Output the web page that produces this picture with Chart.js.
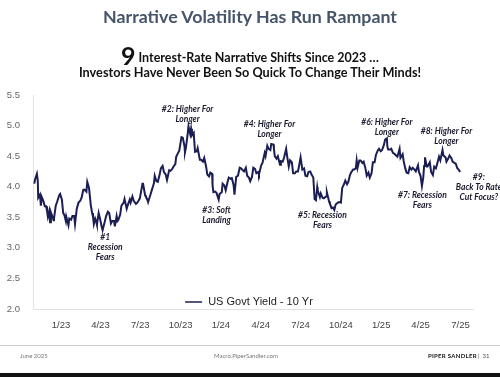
<!DOCTYPE html>
<html>
<head>
<meta charset="utf-8">
<script src="https://cdn.jsdelivr.net/npm/chart.js@4"></script>
<style>
  html, body { margin: 0; padding: 0; background: #fff; }
  #page { position: relative; width: 500px; height: 377px; overflow: hidden; font-family: Lato, "Liberation Sans", sans-serif; }
  #chart { position: absolute; left: 0; top: 0; }
  .txt { position: absolute; left: 0; width: 500px; text-align: center; white-space: nowrap; }
  #title { top: 5px; font-size: 17.8px; font-weight: bold; color: #46546a; }
  #sub1 { top: 40px; font-size: 12.5px; font-weight: bold; color: #111; }
  #sub1 .big { font-size: 25px; vertical-align: -3px; margin-right: 3px; }
  #sub2 { top: 64px; font-size: 12.7px; font-weight: bold; color: #111; }
  #rule { position: absolute; left: 0; top: 345px; width: 500px; height: 1px; background: #cfcfcf; }
  .foot { position: absolute; top: 352px; font-size: 6px; color: #777; white-space: nowrap; }
  #bar { position: absolute; left: 0; top: 373px; width: 500px; height: 4px; background: #111; }
</style>
</head>
<body>
<div id="page">
  <canvas id="chart" width="500" height="377"></canvas>
  <div class="txt" id="title">Narrative Volatility Has Run Rampant</div>
  <div class="txt" id="sub1"><span class="big">9</span>Interest-Rate Narrative Shifts Since 2023 …</div>
  <div class="txt" id="sub2">Investors Have Never Been So Quick To Change Their Minds!</div>
  <div id="rule"></div>
  <div class="foot" style="left:20px">June 2025</div>
  <div class="foot" style="left:214px">Macro.PiperSandler.com</div>
  <div class="foot" style="left:428px;color:#111;font-weight:bold;letter-spacing:0.3px">PIPER SANDLER</div>
  <div class="foot" style="left:478px;color:#555">|&nbsp; 31</div>
  <div id="bar"></div>
</div>
<script>
const seriesLabel = 'US Govt Yield - 10 Yr'

const dates = [
  '2022-11-01','2022-11-03','2022-11-07','2022-11-09','2022-11-10','2022-11-14','2022-11-16','2022-11-18','2022-11-22','2022-11-25',
  '2022-11-28','2022-11-30','2022-12-02','2022-12-05','2022-12-07','2022-12-09','2022-12-13','2022-12-15','2022-12-16','2022-12-20',
  '2022-12-23','2022-12-28','2022-12-30',
  '2023-01-03','2023-01-06','2023-01-09','2023-01-12','2023-01-13','2023-01-18','2023-01-20','2023-01-24','2023-01-27','2023-01-31',
  '2023-02-02','2023-02-06','2023-02-10','2023-02-14','2023-02-17','2023-02-21','2023-02-24','2023-02-28','2023-03-02','2023-03-06',
  '2023-03-08','2023-03-10','2023-03-13','2023-03-15','2023-03-17','2023-03-20','2023-03-22','2023-03-24','2023-03-28','2023-03-31',
  '2023-04-04','2023-04-06','2023-04-11','2023-04-14','2023-04-18','2023-04-21','2023-04-25','2023-04-28','2023-05-02','2023-05-04',
  '2023-05-08','2023-05-10','2023-05-12','2023-05-16','2023-05-19','2023-05-24','2023-05-26','2023-05-31','2023-06-02','2023-06-07',
  '2023-06-09','2023-06-13','2023-06-16','2023-06-21','2023-06-23','2023-06-27','2023-06-30','2023-07-06','2023-07-07','2023-07-12',
  '2023-07-14','2023-07-18','2023-07-19','2023-07-25','2023-07-28','2023-08-01','2023-08-03','2023-08-07','2023-08-10','2023-08-14',
  '2023-08-17','2023-08-21','2023-08-24','2023-08-28','2023-08-31','2023-09-05','2023-09-08','2023-09-12','2023-09-15','2023-09-19',
  '2023-09-21','2023-09-25','2023-09-28','2023-10-03','2023-10-06','2023-10-10','2023-10-11','2023-10-13','2023-10-17','2023-10-19',
  '2023-10-23','2023-10-25','2023-10-27','2023-10-31','2023-11-01','2023-11-03','2023-11-07','2023-11-09','2023-11-14','2023-11-17',
  '2023-11-21','2023-11-24','2023-11-28','2023-12-01','2023-12-05','2023-12-08','2023-12-12','2023-12-13','2023-12-15','2023-12-19',
  '2023-12-22','2023-12-27','2023-12-29',
  '2024-01-03','2024-01-05','2024-01-09','2024-01-12','2024-01-16','2024-01-19','2024-01-23','2024-01-26','2024-01-30','2024-02-01',
  '2024-02-05','2024-02-09','2024-02-13','2024-02-16','2024-02-20','2024-02-23','2024-02-27','2024-03-01','2024-03-05','2024-03-08',
  '2024-03-12','2024-03-15','2024-03-19','2024-03-22','2024-03-26','2024-03-28','2024-04-02','2024-04-05','2024-04-10','2024-04-12',
  '2024-04-16','2024-04-19','2024-04-23','2024-04-25','2024-04-30','2024-05-01','2024-05-03','2024-05-07','2024-05-10','2024-05-15',
  '2024-05-17','2024-05-21','2024-05-24','2024-05-29','2024-05-31','2024-06-04','2024-06-07','2024-06-11','2024-06-14','2024-06-18',
  '2024-06-21','2024-06-25','2024-06-28','2024-07-01','2024-07-05','2024-07-09','2024-07-12','2024-07-16','2024-07-19','2024-07-23',
  '2024-07-26','2024-07-30','2024-08-02','2024-08-05','2024-08-08','2024-08-09','2024-08-14','2024-08-16','2024-08-20','2024-08-23',
  '2024-08-28','2024-08-30','2024-09-04','2024-09-06','2024-09-10','2024-09-13','2024-09-16','2024-09-19','2024-09-24','2024-09-27',
  '2024-10-01','2024-10-04','2024-10-08','2024-10-11','2024-10-15','2024-10-18','2024-10-22','2024-10-25','2024-10-29','2024-10-31',
  '2024-11-04','2024-11-06','2024-11-08','2024-11-12','2024-11-15','2024-11-19','2024-11-22','2024-11-26','2024-11-29','2024-12-03',
  '2024-12-06','2024-12-10','2024-12-13','2024-12-17','2024-12-20','2024-12-24','2024-12-27','2024-12-31',
  '2025-01-03','2025-01-07','2025-01-10','2025-01-14','2025-01-15','2025-01-17','2025-01-22','2025-01-24','2025-01-28','2025-01-31',
  '2025-02-04','2025-02-07','2025-02-12','2025-02-14','2025-02-19','2025-02-21','2025-02-25','2025-02-28','2025-03-04','2025-03-07',
  '2025-03-11','2025-03-14','2025-03-18','2025-03-21','2025-03-26','2025-03-28','2025-04-01','2025-04-04','2025-04-07','2025-04-09',
  '2025-04-11','2025-04-15','2025-04-17','2025-04-22','2025-04-25','2025-04-29','2025-05-02','2025-05-06','2025-05-09','2025-05-13',
  '2025-05-16','2025-05-21','2025-05-23','2025-05-28','2025-05-30','2025-06-03','2025-06-06','2025-06-10','2025-06-13','2025-06-17',
  '2025-06-20','2025-06-24','2025-06-27','2025-06-30'
]

const yields = [
  4.05,4.12,4.21,4.10,3.82,3.87,3.69,3.83,3.76,3.68,
  3.68,3.61,3.51,3.60,3.42,3.58,3.50,3.45,3.48,3.69,
  3.75,3.86,3.88,
  3.79,3.57,3.53,3.44,3.51,3.37,3.48,3.46,3.52,3.52,
  3.39,3.64,3.74,3.77,3.82,3.95,3.95,3.92,4.08,3.98,
  3.98,3.70,3.57,3.51,3.39,3.48,3.44,3.38,3.57,3.48,
  3.34,3.29,3.43,3.52,3.59,3.57,3.40,3.44,3.44,3.35,
  3.52,3.44,3.46,3.54,3.69,3.74,3.80,3.64,3.69,3.79,
  3.74,3.84,3.77,3.72,3.73,3.77,3.81,4.05,4.06,3.86,
  3.83,3.78,3.75,3.89,3.96,4.05,4.18,4.09,4.08,4.19,
  4.30,4.34,4.24,4.20,4.11,4.27,4.26,4.29,4.33,4.37,
  4.49,4.55,4.59,4.81,4.80,4.66,4.56,4.63,4.85,4.99,
  4.86,4.95,4.84,4.88,4.77,4.57,4.58,4.63,4.44,4.44,
  4.41,4.47,4.34,4.20,4.17,4.23,4.21,4.02,3.91,3.92,
  3.90,3.79,3.88,
  3.91,4.05,4.02,3.94,4.07,4.15,4.13,4.14,4.03,3.87,
  4.16,4.18,4.31,4.30,4.27,4.25,4.31,4.18,4.15,4.09,
  4.16,4.31,4.29,4.22,4.24,4.20,4.35,4.39,4.55,4.50,
  4.67,4.62,4.60,4.70,4.69,4.63,4.50,4.46,4.50,4.36,
  4.42,4.41,4.47,4.62,4.51,4.33,4.43,4.40,4.22,4.22,
  4.25,4.25,4.36,4.48,4.28,4.30,4.18,4.17,4.24,4.25,
  4.20,4.15,3.80,3.78,3.99,3.94,3.83,3.89,3.82,3.81,
  3.84,3.91,3.76,3.72,3.65,3.66,3.62,3.71,3.74,3.75,
  3.74,3.98,4.04,4.10,4.04,4.08,4.20,4.24,4.28,4.28,
  4.30,4.43,4.31,4.43,4.43,4.39,4.41,4.30,4.18,4.23,
  4.15,4.22,4.40,4.40,4.52,4.59,4.62,4.58,
  4.60,4.68,4.77,4.79,4.66,4.61,4.61,4.62,4.55,4.54,
  4.51,4.49,4.62,4.47,4.53,4.43,4.30,4.23,4.22,4.32,
  4.28,4.31,4.28,4.25,4.35,4.25,4.17,4.01,4.15,4.34,
  4.48,4.33,4.33,4.40,4.24,4.19,4.33,4.30,4.38,4.49,
  4.43,4.60,4.51,4.48,4.41,4.46,4.51,4.47,4.41,4.39,
  4.38,4.30,4.28,4.24
]

// x ticks, one per quarter
const tickDates = ['2023-01-01','2023-04-01','2023-07-01','2023-10-01','2024-01-01','2024-04-01',
  '2024-07-01','2024-10-01','2025-01-01','2025-04-01','2025-07-01']
const tickLabels = ['1/23','4/23','7/23','10/23','1/24','4/24','7/24','10/24','1/25','4/25','7/25']

const yTicks = [2.0, 2.5, 3.0, 3.5, 4.0, 4.5, 5.0, 5.5]

// narrative callouts: [date, yield level of first line, lines]
const notes = [
  ['2023-04-12', 3.18, ['#1', 'Recession', 'Fears']],
  ['2023-10-17', 5.27, ['#2: Higher For', 'Longer']],
  ['2023-12-22', 3.61, ['#3: Soft', 'Landing']],
  ['2024-04-21', 5.02, ['#4: Higher For', 'Longer']],
  ['2024-08-20', 3.53, ['#5: Recession', 'Fears']],
  ['2025-01-14', 5.05, ['#6: Higher For', 'Longer']],
  ['2025-04-05', 3.86, ['#7: Recession', 'Fears']],
  ['2025-05-30', 4.91, ['#8: Higher For', 'Longer']],
  ['2025-08-12', 4.15, ['#9:', 'Back To Rate', 'Cut Focus?']]
]

// months since 1/1/2023
const toMonths = (d) => {
  const p = d.split('-').map(Number)
  return (Date.UTC(p[0], p[1] - 1, p[2]) - Date.UTC(2023, 0, 1)) / (86400000 * 30.44)
}

const lineColor = '#1b1e52'
const points = dates.map((d, i) => ({ x: toMonths(d), y: yields[i] }))
const tickPos = tickDates.map(toMonths)

const notesPlugin = {
  id: 'notes',
  afterDatasetsDraw(chart) {
    const ctx = chart.ctx
    const xs = chart.scales.x, ys = chart.scales.y
    ctx.save()
    ctx.font = 'italic bold 8.5px Lato, "Liberation Sans", sans-serif'
    ctx.fillStyle = '#1a1a2e'
    ctx.textAlign = 'center'
    ctx.textBaseline = 'middle'
    notes.forEach(n => {
      const px = xs.getPixelForValue(toMonths(n[0]))
      const py = ys.getPixelForValue(n[1])
      n[2].forEach((t, k) => ctx.fillText(t, px, py + k * 10))
    })

    // legend inside the plot, just above the axis
    const area = chart.chartArea
    const ds = chart.data.datasets[0]
    ctx.font = '11px "Liberation Sans", Arial, sans-serif'
    ctx.textAlign = 'left'
    const tw = ctx.measureText(ds.label).width
    const lx = (area.left + area.right) / 2 - (tw + 23) / 2 - 4
    const ly = area.bottom - 7
    ctx.strokeStyle = ds.borderColor
    ctx.lineWidth = 1.5
    ctx.beginPath()
    ctx.moveTo(lx, ly)
    ctx.lineTo(lx + 17, ly)
    ctx.stroke()
    ctx.fillStyle = '#222'
    ctx.fillText(ds.label, lx + 23, ly)
    ctx.restore()
  }
}

new Chart(document.getElementById('chart'), {
  type: 'line',
  data: {
    datasets: [{
      label: seriesLabel,
      data: points,
      borderColor: lineColor,
      borderWidth: 2,
      pointRadius: 0,
      tension: 0,
      fill: false
    }]
  },
  options: {
    responsive: false,
    animation: false,
    layout: { padding: { top: 95, right: 27, bottom: 48, left: 0 } },
    plugins: {
      legend: { display: false },
      tooltip: { enabled: false }
    },
    scales: {
      x: {
        type: 'linear',
        min: -2.1,
        max: 30.9,
        afterBuildTicks: s => { s.ticks = tickPos.map(v => ({ value: v })) },
        afterFit: s => { s.height = 20 },
        grid: { display: false },
        border: { color: '#e2e2e2' },
        ticks: {
          padding: 3,
          maxRotation: 0,
          autoSkip: false,
          color: '#444',
          font: { family: '"Liberation Sans", Arial, sans-serif', size: 9.5 },
          callback: (v, i) => tickLabels[i]
        }
      },
      y: {
        min: 2,
        max: 5.5,
        afterBuildTicks: s => { s.ticks = yTicks.map(v => ({ value: v })) },
        afterFit: s => { s.width = 33 },
        grid: { display: false },
        border: { color: '#e2e2e2' },
        ticks: {
          padding: 5,
          color: '#666',
          font: { family: '"Liberation Sans", Arial, sans-serif', size: 9.5 },
          callback: v => v.toFixed(1)
        }
      }
    }
  },
  plugins: [notesPlugin]
})
</script>
</body>
</html>
